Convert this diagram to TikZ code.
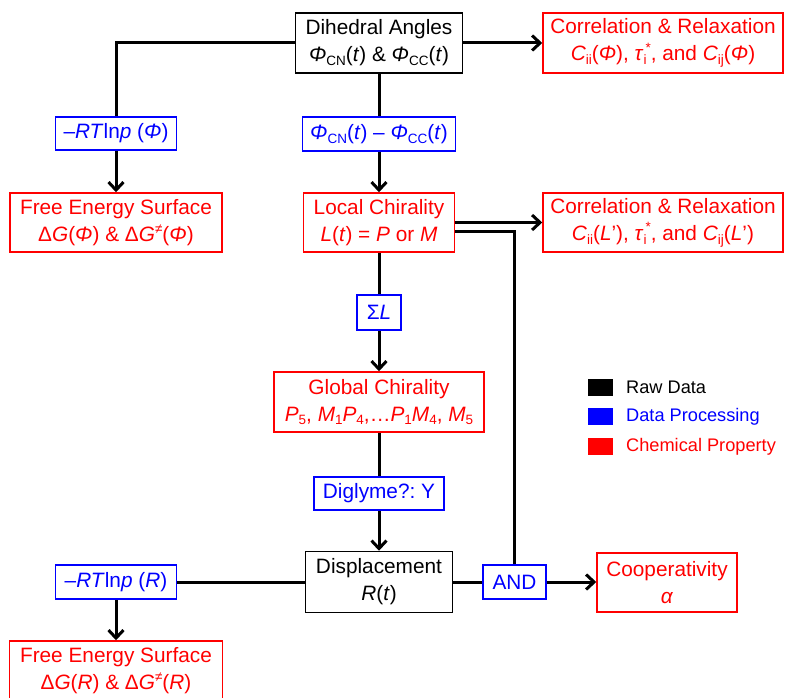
\documentclass[tikz,border=0pt]{standalone}
\usepackage{fontspec}
\setmainfont{Liberation Sans}
\usetikzlibrary{arrows.meta}
\definecolor{rd}{RGB}{255,0,0}
\definecolor{bl}{RGB}{0,0,255}
\newcommand\lo[1]{\raisebox{-0.35ex}{\fontsize{13.5}{13.5}\selectfont #1}}
\newcommand\hi[1]{\raisebox{0.75ex}{\fontsize{13.5}{13.5}\selectfont #1}}
\frenchspacing
\begin{document}
\begin{tikzpicture}[x=1pt,y=-1pt,
 box/.style={draw, line width=1.5pt, inner sep=0pt, align=center, font=\fontsize{20.8}{27}\selectfont\frenchspacing},
 raw/.style={box, draw=black, text=black},
 proc/.style={box, draw=bl, text=bl},
 chem/.style={box, draw=rd, text=rd},
 conn/.style={line width=3pt},
 arr/.style={conn, -{Straight Barb[length=8pt,width=15pt]}},
 lgbox/.style={minimum width=25pt, minimum height=17pt, inner sep=0pt},
 lgtext/.style={anchor=west, inner sep=0pt, font=\fontsize{18.2}{22}\selectfont}]
\useasboundingbox[fill=white] (0,0) rectangle (785,698);

\node[raw, minimum width=167pt, minimum height=60pt] (dih) at (379,43) {Dihedral Angles\\ \textit{Φ}\lo{CN}(\textit{t}) \& \textit{Φ}\lo{CC}(\textit{t})};
\node[chem, minimum width=240pt, minimum height=60pt] (corr1) at (663,43) {Correlation \& Relaxation\\ \textit{C}\lo{ii}(\textit{Φ}), \textit{τ}\lo{i}\kern-1pt\hi{*}, and \textit{C}\lo{ij}(\textit{Φ})};
\node[proc, minimum width=121pt, minimum height=33pt] (rtphi) at (116,133.5) {–\textit{RT}ln\textit{p} (\textit{Φ})};
\node[proc, minimum width=153pt, minimum height=34pt] (phid) at (379,134) {\textit{Φ}\lo{CN}(\textit{t}) – \textit{Φ}\lo{CC}(\textit{t})};
\node[chem, minimum width=212pt, minimum height=59pt] (fes1) at (116,222.5) {Free Energy Surface\\ Δ\textit{G}(\textit{Φ}) \& Δ\textit{G}\hi{≠}(\textit{Φ})};
\node[chem, minimum width=151pt, minimum height=59pt] (loc) at (379,222.5) {Local Chirality\\ \textit{L}(\textit{t}) = \textit{P} or \textit{M}};
\node[chem, minimum width=240pt, minimum height=59pt] (corr2) at (663,222.5) {Correlation \& Relaxation\\ \textit{C}\lo{ii}(\textit{L}'), \textit{τ}\lo{i}\kern-1pt\hi{*}, and \textit{C}\lo{ij}(\textit{L}')};
\node[proc, minimum width=44pt, minimum height=35pt] (sig) at (379,312.5) {Σ\textit{L}};
\node[chem, minimum width=210pt, minimum height=60pt] (glob) at (379,402) {Global Chirality\\ \textit{P}\lo{5}, \textit{M}\lo{1}\textit{P}\lo{4},…\textit{P}\lo{1}\textit{M}\lo{4}, \textit{M}\lo{5}};
\node[proc, minimum width=130pt, minimum height=33pt] (dig) at (379,493.5) {Diglyme?: Y};
\node[raw, minimum width=147pt, minimum height=61pt] (disp) at (379,582) {Displacement\\ \textit{R}(\textit{t})};
\node[proc, minimum width=121pt, minimum height=34pt] (rtr) at (116,582) {–\textit{RT}ln\textit{p} (\textit{R})};
\node[proc, minimum width=63pt, minimum height=34pt] (and) at (514.5,582) {AND};
\node[chem, minimum width=140pt, minimum height=59pt] (coop) at (667,582.5) {Cooperativity\\ \textit{α}};
\node[chem, minimum width=213pt, minimum height=59pt] (fes2) at (116,670.5) {Free Energy Surface\\ Δ\textit{G}(\textit{R}) \& Δ\textit{G}\hi{≠}(\textit{R})};

\draw[conn] (dih.west) -| (rtphi.north);
\draw[arr] (rtphi.south) -- (fes1.north);
\draw[arr] (dih.east) -- (corr1.west);
\draw[conn] (dih.south) -- (phid.north);
\draw[arr] (phid.south) -- (loc.north);
\draw[arr] (loc.east) -- (corr2.west);
\draw[conn] ([yshift=-8.5pt]loc.east) -| (and.north);
\draw[conn] (loc.south) -- (sig.north);
\draw[arr] (sig.south) -- (glob.north);
\draw[conn] (glob.south) -- (dig.north);
\draw[arr] (dig.south) -- (disp.north);
\draw[conn] (disp.west) -- (rtr.east);
\draw[arr] (rtr.south) -- (fes2.north);
\draw[conn] (disp.east) -- (and.west);
\draw[arr] (and.east) -- (and.east -| coop.west);

\node[lgbox, fill=black] (lg1) at (600.5,387) {};
\node[lgbox, fill=bl] (lg2) at (600.5,416.5) {};
\node[lgbox, fill=rd] (lg3) at (600.5,446.5) {};
\node[lgtext, text=black] (lt1) at (626,387) {Raw Data};
\node[lgtext, text=bl] (lt2) at (626,416.5) {Data Processing};
\node[lgtext, text=rd] (lt3) at (626,446.5) {Chemical Property};
\end{tikzpicture}
\end{document}
